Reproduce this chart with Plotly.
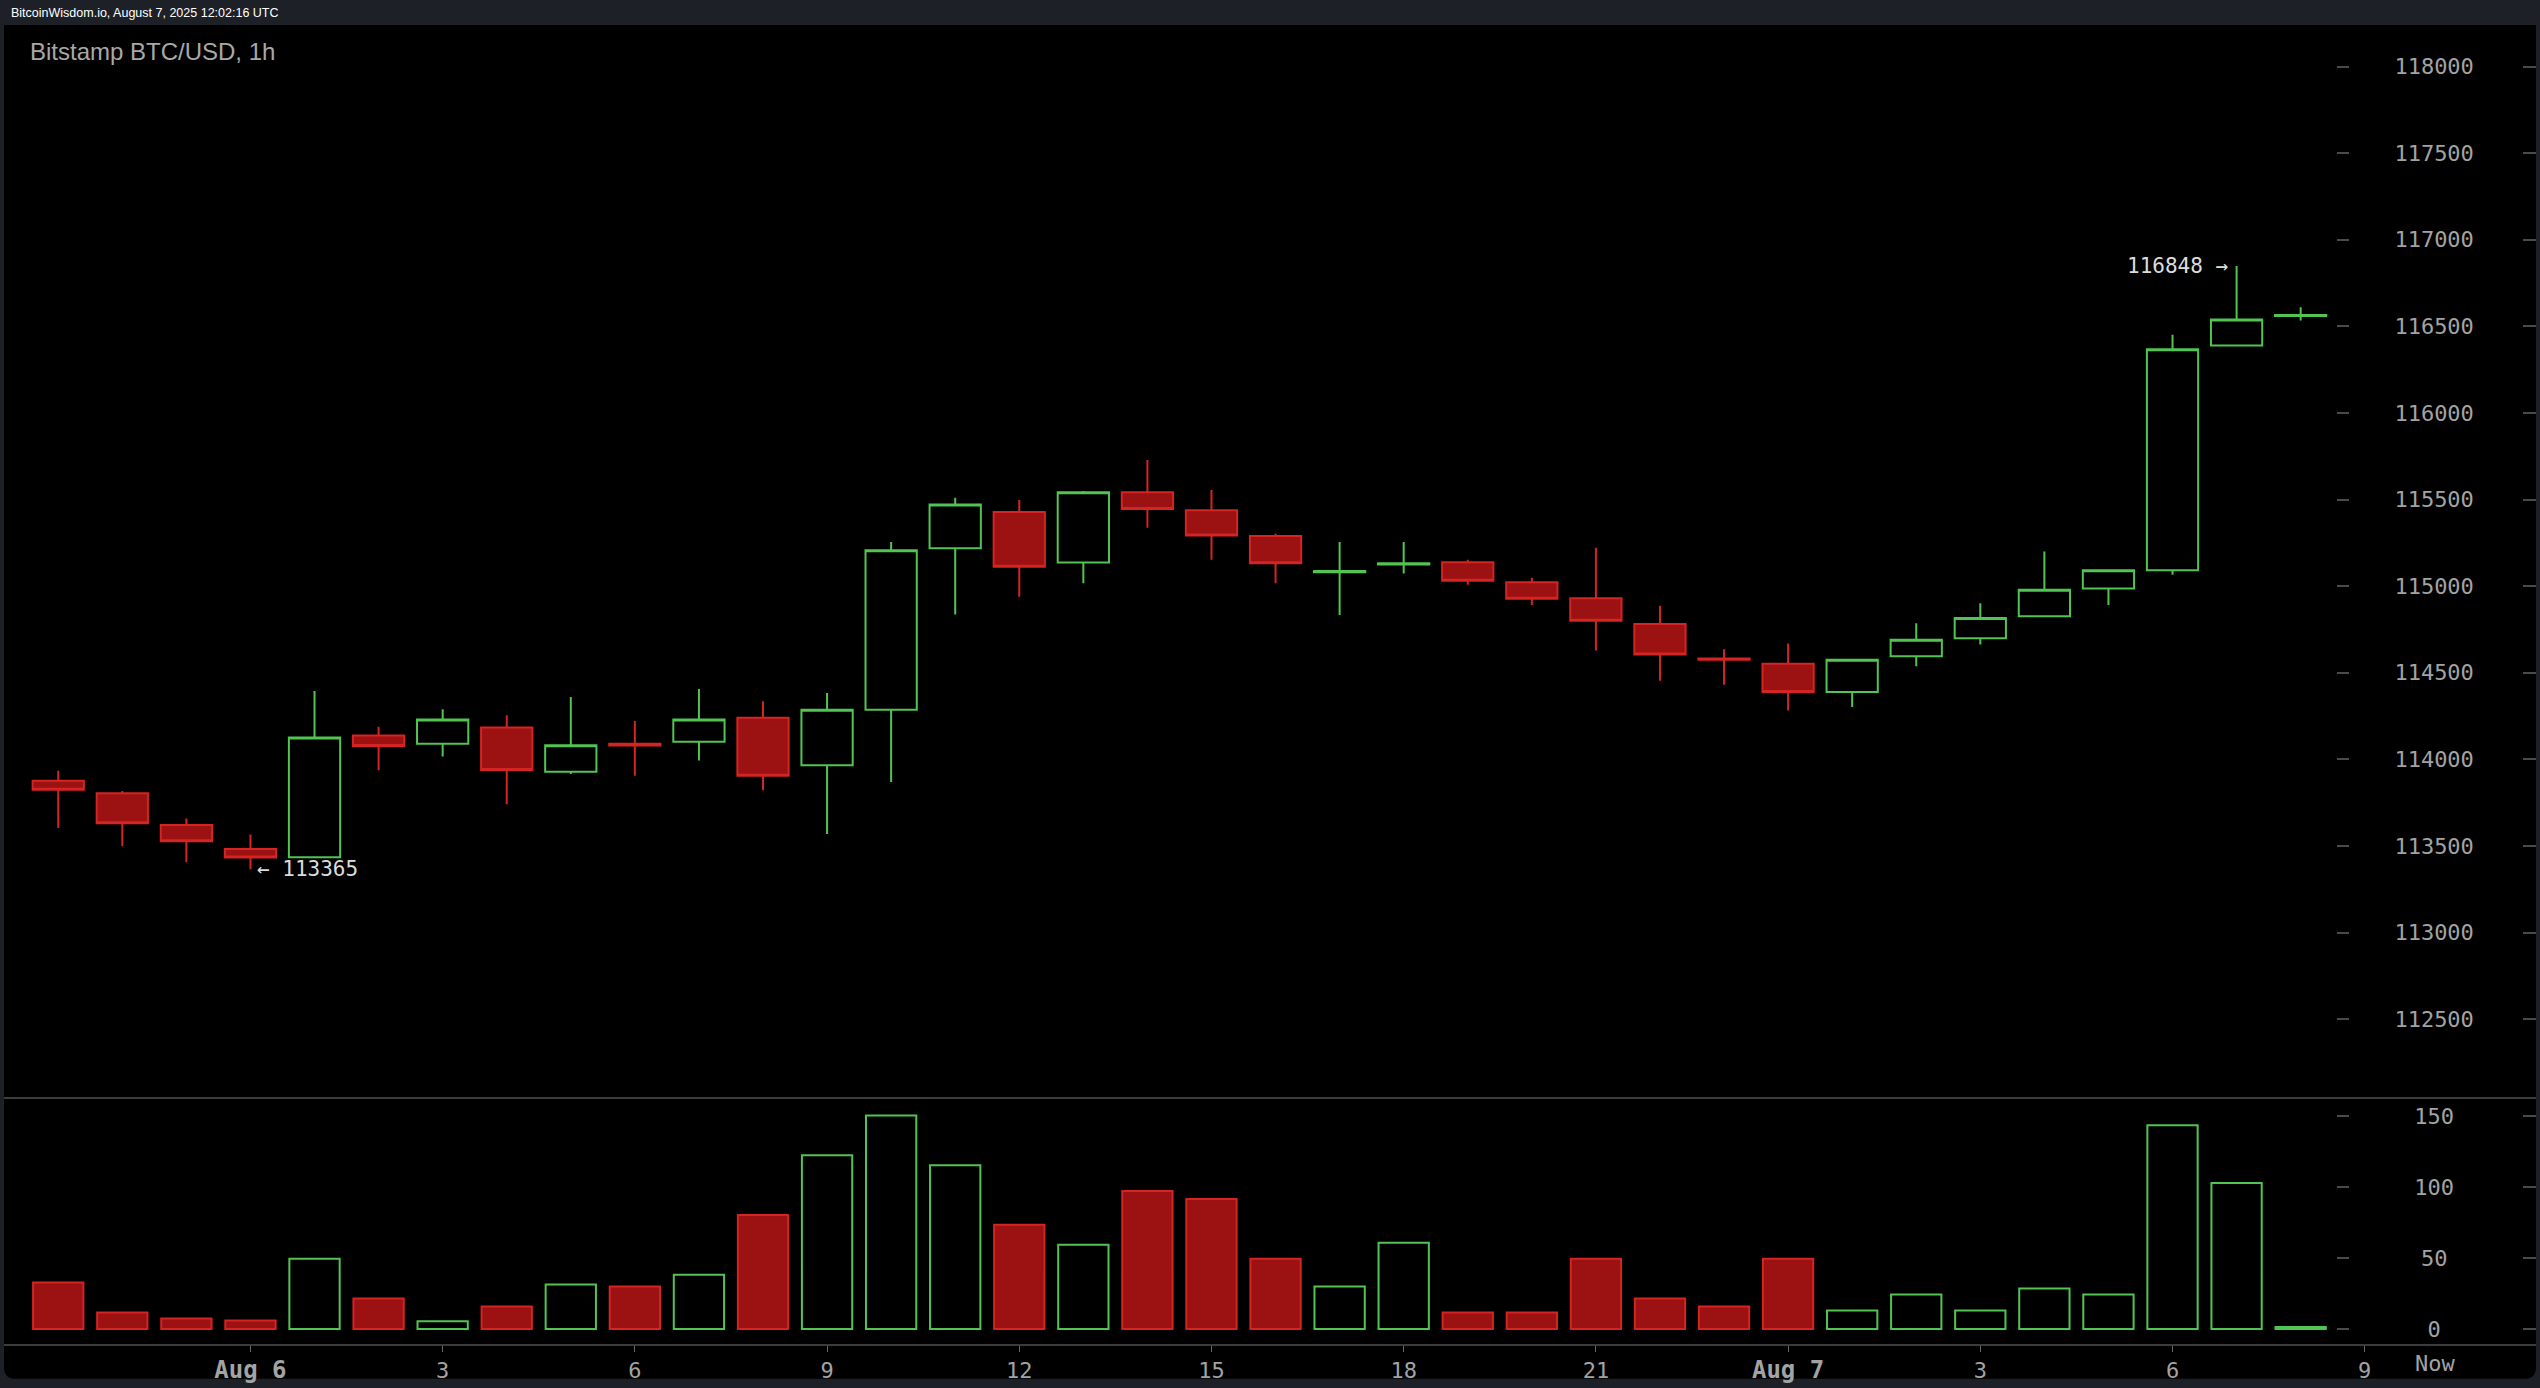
import plotly.graph_objects as go

# ---------------- data ----------------
times = [
    "2025-08-05 21:00", "2025-08-05 22:00", "2025-08-05 23:00",
    "2025-08-06 00:00", "2025-08-06 01:00", "2025-08-06 02:00", "2025-08-06 03:00",
    "2025-08-06 04:00", "2025-08-06 05:00", "2025-08-06 06:00", "2025-08-06 07:00",
    "2025-08-06 08:00", "2025-08-06 09:00", "2025-08-06 10:00", "2025-08-06 11:00",
    "2025-08-06 12:00", "2025-08-06 13:00", "2025-08-06 14:00", "2025-08-06 15:00",
    "2025-08-06 16:00", "2025-08-06 17:00", "2025-08-06 18:00", "2025-08-06 19:00",
    "2025-08-06 20:00", "2025-08-06 21:00", "2025-08-06 22:00", "2025-08-06 23:00",
    "2025-08-07 00:00", "2025-08-07 01:00", "2025-08-07 02:00", "2025-08-07 03:00",
    "2025-08-07 04:00", "2025-08-07 05:00", "2025-08-07 06:00", "2025-08-07 07:00",
    "2025-08-07 08:00",
]
open_ = [113876, 113805, 113621, 113483, 113435, 114138, 114090, 114184, 113929,
         114090, 114102, 114241, 113966, 114286, 115219, 115428, 115136, 115543,
         115439, 115290, 115080, 115125, 115138, 115023, 114931, 114782, 114582,
         114552, 114389, 114596, 114700, 114826, 114987, 115092, 116389, 116560]
high = [113935, 113818, 113658, 113566, 114395, 114188, 114290, 114255, 114360,
        114221, 114406, 114336, 114383, 115255, 115510, 115498, 115550, 115728,
        115556, 115303, 115255, 115255, 115152, 115048, 115222, 114887, 114636,
        114669, 114578, 114786, 114901, 115200, 115095, 116451, 116848, 116611]
low = [113604, 113498, 113406, 113365, 113430, 113937, 114017, 113741, 113915,
       113905, 113994, 113822, 113569, 113870, 114836, 114939, 115017, 115337,
       115153, 115017, 114833, 115073, 115008, 114891, 114629, 114454, 114431,
       114282, 114303, 114537, 114663, 114820, 114891, 115066, 116385, 116534]
close = [113824, 113631, 113527, 113433, 114127, 114077, 114230, 113939, 114081,
         114080, 114230, 113906, 114287, 115207, 115471, 115112, 115543, 115445,
         115293, 115132, 115088, 115133, 115031, 114928, 114801, 114606, 114575,
         114389, 114575, 114690, 114816, 114979, 115092, 116368, 116540, 116565]
volume = [32.7, 11.7, 7.5, 6.1, 49.5, 21.5, 5.5, 15.9, 31.3, 29.9, 38.3, 80.3,
          122.3, 150.3, 115.3, 73.3, 59.3, 97.1, 91.5, 49.5, 29.9, 60.7, 11.7,
          11.7, 49.5, 21.5, 15.9, 49.5, 13.1, 24.3, 13.1, 28.5, 24.3, 143.3,
          102.7, 1.5]

x_tick_vals = ["2025-08-06 00:00", "2025-08-06 03:00", "2025-08-06 06:00",
               "2025-08-06 09:00", "2025-08-06 12:00", "2025-08-06 15:00",
               "2025-08-06 18:00", "2025-08-06 21:00", "2025-08-07 00:00",
               "2025-08-07 03:00", "2025-08-07 06:00", "2025-08-07 09:00"]
x_tick_text = ["Aug 6", "3", "6", "9", "12", "15", "18", "21", "Aug 7", "3", "6", "9"]
price_ticks = [112500, 113000, 113500, 114000, 114500, 115000, 115500,
               116000, 116500, 117000, 117500, 118000]
vol_ticks = [0, 50, 100, 150]

low_label = 113365
high_label = 116848

# ---------------- style ----------------
W, H = 2540, 1388
GREEN = "#52c452"
RED_LINE = "#d42424"
RED_FILL = "#9c1111"
OUTER = "#1d2027"
AX = "#3c3c3c"
TICK_FONT = dict(family="DejaVu Sans Mono", size=22, color="#a3a3a3")
MONO = "DejaVu Sans Mono"

ml, mr, mt, mb = 4, 4, 25, 38
plot_w = W - ml - mr
plot_h = H - mt - mb

# labels centred in a 6-character field (invisible padding glyphs)
FULL = '<span style="color:#000000">0</span>'
HALF = '<span style="font-size:11px;color:#000000">0</span>'


def centred(label, field=6):
    pad = field - len(label)
    left = FULL * (pad // 2) + (HALF if pad % 2 else "")
    return left + label


up = [c >= o for o, c in zip(open_, close)]
bar_fill = ["rgba(0,0,0,0)" if u else RED_FILL for u in up]
bar_line = [GREEN if u else RED_LINE for u in up]

fig = go.Figure()

fig.add_trace(go.Candlestick(
    x=times, open=open_, high=high, low=low, close=close,
    xaxis="x", yaxis="y",
    increasing=dict(line=dict(color=GREEN, width=2), fillcolor="rgba(0,0,0,0)"),
    decreasing=dict(line=dict(color=RED_LINE, width=2), fillcolor=RED_FILL),
    whiskerwidth=0, showlegend=False, hoverinfo="skip",
))

fig.add_trace(go.Bar(
    x=times, y=volume, xaxis="x2", yaxis="y2",
    width=0.785 * 3600000,
    marker=dict(color=bar_fill, line=dict(color=bar_line, width=2)),
    showlegend=False, hoverinfo="skip",
))

# invisible helpers for the right-edge tick dashes
fig.add_trace(go.Scatter(x=times, y=close, xaxis="x", yaxis="y3", mode="lines",
                         line=dict(width=0), opacity=0, showlegend=False, hoverinfo="skip"))
fig.add_trace(go.Scatter(x=times, y=volume, xaxis="x2", yaxis="y4", mode="lines",
                         line=dict(width=0), opacity=0, showlegend=False, hoverinfo="skip"))

x_range = ["2025-08-05 20:09:12", "2025-08-07 11:40:24"]
price_range = [112050, 118240]
vol_range = [-10.5, 162.1]
axis_pos = (2336 - ml) / plot_w
price_dom = [(H - mb - 1102) / plot_h, 1.0]
vol_dom = [0.0, (H - mb - 1103.5) / plot_h]

fig.update_layout(
    width=W, height=H,
    margin=dict(l=ml, r=mr, t=mt, b=mb, pad=0),
    paper_bgcolor=OUTER, plot_bgcolor="#000000",
    boxgap=0.2, boxgroupgap=0,
    xaxis=dict(domain=[0, 1], anchor="y", range=x_range, type="date",
               showticklabels=False, ticks="", showgrid=False, zeroline=False,
               showline=True, linecolor=AX, linewidth=2,
               rangeslider=dict(visible=False), matches="x2"),
    xaxis2=dict(domain=[0, 1], anchor="y2", range=x_range, type="date",
                tickmode="array", tickvals=x_tick_vals,
                ticktext=[('<span style="font-size:24px"><b>%s</b></span>' % t)
                          if t.startswith("Aug") else t for t in x_tick_text],
                ticks="outside", ticklen=6, tickwidth=1, tickcolor="#666",
                tickfont=TICK_FONT, showgrid=False, zeroline=False,
                showline=True, linecolor=AX, linewidth=2),
    yaxis=dict(domain=price_dom, range=price_range, anchor="free", position=axis_pos,
               side="right", tickmode="array", tickvals=price_ticks,
               ticktext=[centred(str(v)) for v in price_ticks],
               ticks="outside", ticklen=12, tickwidth=2, tickcolor="#4a4a4a",
               ticklabelstandoff=41, tickfont=TICK_FONT,
               showgrid=False, zeroline=False, showline=False),
    yaxis2=dict(domain=vol_dom, range=vol_range, anchor="free", position=axis_pos,
                side="right", tickmode="array", tickvals=vol_ticks,
                ticktext=[centred(str(v)) for v in vol_ticks],
                ticks="outside", ticklen=12, tickwidth=2, tickcolor="#4a4a4a",
                ticklabelstandoff=41, tickfont=TICK_FONT,
                showgrid=False, zeroline=False, showline=False),
    yaxis3=dict(overlaying="y", range=price_range, anchor="free", position=1.0,
                side="right", tickmode="array", tickvals=price_ticks,
                ticks="inside", ticklen=13, tickwidth=2, tickcolor="#4a4a4a",
                showticklabels=False, showgrid=False, zeroline=False, showline=False),
    yaxis4=dict(overlaying="y2", range=vol_range, anchor="free", position=1.0,
                side="right", tickmode="array", tickvals=vol_ticks,
                ticks="inside", ticklen=13, tickwidth=2, tickcolor="#4a4a4a",
                showticklabels=False, showgrid=False, zeroline=False, showline=False),
)

# black rounded panel behind everything
x0, x1 = (4 - ml) / plot_w, (2536 - ml) / plot_w
y0, y1 = (H - mb - 1385) / plot_h, (H - mb - 25) / plot_h
rx, ry = 12 / plot_w, 12 / plot_h
path = (f"M {x0+rx},{y1} L {x1-rx},{y1} Q {x1},{y1} {x1},{y1-ry} "
        f"L {x1},{y0+ry} Q {x1},{y0} {x1-rx},{y0} L {x0+rx},{y0} "
        f"Q {x0},{y0} {x0},{y0+ry} L {x0},{y1-ry} Q {x0},{y1} {x0+rx},{y1} Z")
fig.add_shape(type="path", path=path, xref="paper", yref="paper",
              fillcolor="#000000", line=dict(width=0), layer="below")

fig.add_annotation(text="BitcoinWisdom.io, August 7, 2025 12:02:16 UTC",
                   xref="paper", yref="paper", x=(9 - ml) / plot_w, y=(H - mb - 13) / plot_h,
                   xanchor="left", yanchor="middle", showarrow=False,
                   font=dict(family="Liberation Sans", size=12.5, color="#ffffff"))
fig.add_annotation(text="Bitstamp BTC/USD, 1h",
                   xref="paper", yref="paper", x=(28 - ml) / plot_w, y=(H - mb - 52) / plot_h,
                   xanchor="left", yanchor="middle", showarrow=False,
                   font=dict(family="Liberation Sans", size=24, color="#a8a8a8"))
fig.add_annotation(text="\u2190 %d" % low_label, x=times[3], y=low_label,
                   xref="x", yref="y", xanchor="left", yanchor="middle", xshift=5,
                   showarrow=False, font=dict(family=MONO, size=21, color="#dcdcdc"))
fig.add_annotation(text="%d \u2192" % high_label, x=times[34], y=high_label,
                   xref="x", yref="y", xanchor="right", yanchor="middle", xshift=-7,
                   showarrow=False, font=dict(family=MONO, size=21, color="#dcdcdc"))
fig.add_annotation(text="Now", xref="paper", yref="paper", x=(2435 - ml) / plot_w, y=0,
                   xanchor="center", yanchor="middle", yshift=-19, showarrow=False,
                   font=TICK_FONT)

fig.write_html("out.html",
               config={"displayModeBar": False, "staticPlot": True},
               post_script="document.body.style.margin='0';"
                           "document.body.style.overflow='hidden';"
                           "document.body.style.background='%s';" % OUTER)
